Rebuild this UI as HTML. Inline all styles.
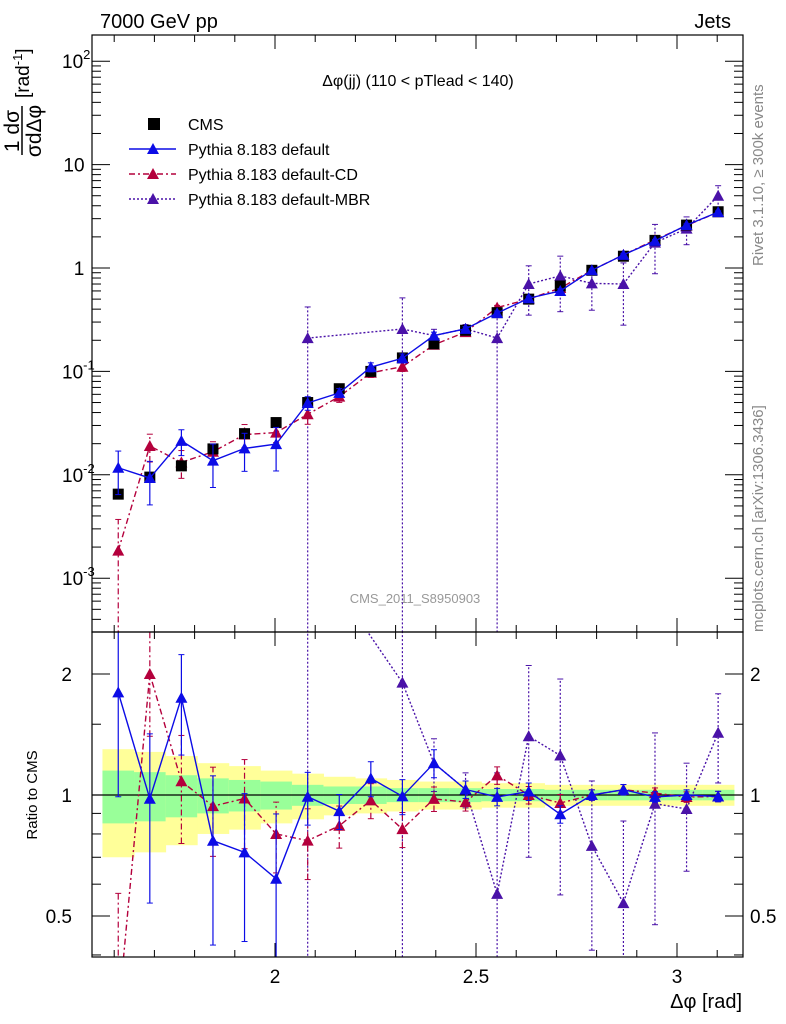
<!DOCTYPE html>
<html><head><meta charset="utf-8"><style>
html,body{margin:0;background:#fff;overflow:hidden;width:786px;height:1024px;}
svg{display:block;font-family:"Liberation Sans",sans-serif;}
</style></head><body>
<svg id="c" width="786" height="1024" viewBox="0 0 786 1024" xmlns="http://www.w3.org/2000/svg">
<text x="100" y="28" font-size="20">7000 GeV pp</text>
<text x="731" y="28" font-size="20" text-anchor="end">Jets</text>
<text x="418" y="86" font-size="16" text-anchor="middle">Δφ(jj) (110 &lt; pTlead &lt;  140)</text>
<text x="415" y="603" font-size="13" fill="#999" text-anchor="middle">CMS_2011_S8950903</text>
<text transform="translate(763,266) rotate(-90)" font-size="15" fill="#888">Rivet 3.1.10, ≥ 300k events</text>
<text transform="translate(763,632) rotate(-90)" font-size="15" fill="#888">mcplots.cern.ch [arXiv:1306.3436]</text>
<g transform="translate(22,155) rotate(-90)">
<text x="24" y="-3" font-size="21" text-anchor="middle">1 dσ</text>
<line x1="0" y1="0" x2="49" y2="0" stroke="#000" stroke-width="1.5"/>
<text x="24" y="19" font-size="21" text-anchor="middle">σdΔφ</text>
<text x="57" y="7" font-size="19">[rad<tspan font-size="13" dy="-7">-1</tspan><tspan dy="7">]</tspan></text>
</g>
<text transform="translate(37,795) rotate(-90)" font-size="15" text-anchor="middle">Ratio to CMS</text>
<text x="742" y="1008" font-size="20" text-anchor="end">Δφ [rad]</text>
<g id="g"></g>
</svg>
<script>
const cmsVals=[0.0065,0.0095,0.0122,0.0178,0.025,0.032,0.05,0.068,0.1,0.135,0.185,0.25,0.37,0.5,0.67,0.95,1.3,1.85,2.6,3.5];
const defVals=[0.0117,0.0093,0.0213,0.0137,0.018,0.0198,0.0495,0.062,0.11,0.134,0.222,0.258,0.366,0.51,0.60,0.95,1.34,1.83,2.6,3.47];
const cdVals=[0.00185,0.019,0.0132,0.0167,0.0245,0.0256,0.0385,0.057,0.097,0.111,0.181,0.24,0.414,0.5,0.64,0.95,1.34,1.87,2.57,3.47];
const mbrVals=[null,null,null,null,null,null,0.21,null,null,0.257,0.222,0.258,0.21,0.7,0.84,0.71,0.70,1.76,2.4,5.0];
const defErr=[0.45,0.45,0.28,0.45,0.4,0.45,0.15,0.1,0.1,0.1,0.08,0.05,0.05,0.05,0.05,0.03,0.03,0.03,0.03,0.03];
const cdErr=[1,0.3,0.3,0.25,0.25,0.2,0.2,0.12,0.1,0.1,0.07,0.05,0.05,0.05,0.05,0.03,0.03,0.03,0.03,0.03];
const mbrErr=[0,0,0,0,0,0,1,0,0,1,0.15,0.1,1,0.5,0.55,0.45,0.6,0.5,0.3,0.25];
const yellowBand=[0.3,0.28,0.25,0.2,0.18,0.15,0.13,0.11,0.1,0.09,0.08,0.08,0.07,0.07,0.06,0.06,0.06,0.06,0.06,0.06];
const greenBand=[0.15,0.14,0.12,0.1,0.09,0.08,0.06,0.05,0.05,0.04,0.04,0.04,0.035,0.035,0.03,0.03,0.03,0.03,0.03,0.03];
const xTicks=[2,2.5,3];
const yTicks=[0.001,0.01,0.1,1,10,100];
const yTickLabels=[["10","-3"],["10","-2"],["10","-1"],["1",""],["10",""],["10","2"]];
const rTicks=[0.5,1,2];

const NS="http://www.w3.org/2000/svg";
const g=document.getElementById('g');
const L=92,R=743,T=35,M=632,B=957;
const X=v=>275+(v-2)*402;
const Y=v=>268-Math.log10(v)*103.4;
const RY=r=>795-Math.log2(r)*121;
const bw=Math.PI/40;
const centers=cmsVals.map((_,i)=>Math.PI/2+(i+0.5)*bw);
function el(t,a,p){const e=document.createElementNS(NS,t);for(const k in a)e.setAttribute(k,a[k]);(p||g).appendChild(e);return e;}
const clip=el('clipPath',{id:'cm'});el('rect',{x:L,y:T,width:R-L,height:M-T},clip);
const clip2=el('clipPath',{id:'cr'});el('rect',{x:L,y:M,width:R-L,height:B-M},clip2);
const gm=el('g',{'clip-path':'url(#cm)'});


const gr=el('g',{'clip-path':'url(#cr)'});


centers.forEach((c,i)=>{
 const x0=X(c-bw/2),w=X(c+bw/2)-x0;
 const y=el('rect',{x:x0,y:RY(1+yellowBand[i]),width:w+0.5,height:RY(1-yellowBand[i])-RY(1+yellowBand[i]),fill:'#ffff99'},gr);
 
 
 const gg=el('rect',{x:x0,y:RY(1+greenBand[i]),width:w+0.5,height:RY(1-greenBand[i])-RY(1+greenBand[i]),fill:'#99ff99'},gr);
 
 
});
el('line',{x1:L,x2:R,y1:RY(1),y2:RY(1),stroke:'#000','stroke-width':1.2},gr);
function tri(x,y,col,p,name){const t=el('polygon',{points:`${x},${y-6} ${x-6},${y+5} ${x+6},${y+5}`,fill:col},p);}
function series(vals,err,col,dash,name){
 let pm=[],pr=[];
 vals.forEach((v,i)=>{if(v==null)return;const x=X(centers[i]);
  pm.push([x,Y(v)]);pr.push([x,RY(v/cmsVals[i])]);
  const lo=Math.max(v*(1-err[i]),1e-6),hi=v*(1+err[i]);
  el('line',{x1:x,x2:x,y1:Y(lo),y2:Y(hi),stroke:col,'stroke-width':1.2,'stroke-dasharray':dash},gm);
  el('line',{x1:x,x2:x,y1:RY(lo/cmsVals[i]),y2:RY(hi/cmsVals[i]),stroke:col,'stroke-width':1.2,'stroke-dasharray':dash},gr);
  [[Y(lo),gm],[Y(hi),gm],[RY(lo/cmsVals[i]),gr],[RY(hi/cmsVals[i]),gr]].forEach(([yy,p])=>el('line',{x1:x-3,x2:x+3,y1:yy,y2:yy,stroke:col},p));
 });
 const a=el('polyline',{points:pm.map(p=>p.join(',')).join(' '),fill:'none',stroke:col,'stroke-width':1.4,'stroke-dasharray':dash},gm);
 
 
 const b=el('polyline',{points:pr.map(p=>p.join(',')).join(' '),fill:'none',stroke:col,'stroke-width':1.4,'stroke-dasharray':dash},gr);
 
 
 pm.forEach(p=>tri(p[0],p[1],col,gm,name+'-point'));
 pr.forEach(p=>tri(p[0],p[1],col,gr,name+'-ratio-point'));
}
const cD='#0c0ce6',cC='#b4003c',cM='#4a12a8';
series(mbrVals,mbrErr,cM,'2,2','mbr');
series(cdVals,cdErr,cC,'6,3,2,3','cd');
cmsVals.forEach((v,i)=>{const x=X(centers[i]);const r=el('rect',{x:x-5.5,y:Y(v)-5.5,width:11,height:11,fill:'#000'},gm);
 
 });
series(defVals,defErr,cD,'','default');
[[T,M],[M,B]].forEach(([a,b])=>el('rect',{x:L,y:a,width:R-L,height:b-a,fill:'none',stroke:'#000','stroke-width':1.2}));
for(let v=1.6;v<=3.16;v+=0.1){const x=X(v);const major=Math.abs(v*2-Math.round(v*2))<1e-6;const len=major?14:7;
 [[T,1],[M,-1],[M,1],[B,-1]].forEach(([yy,d])=>el('line',{x1:x,x2:x,y1:yy,y2:yy+d*len,stroke:'#000'}));}
xTicks.forEach(v=>{const t=el('text',{x:X(v),y:983,'font-size':19,'text-anchor':'middle'});t.textContent=String(v);
 
 });
for(let e=-4;e<=2;e++)for(let k=1;k<10;k++){const v=k*Math.pow(10,e);const y=Y(v);if(y<T||y>M)continue;const len=k==1?18:9;
 el('line',{x1:L,x2:L+len,y1:y,y2:y,stroke:'#000'});el('line',{x1:R,x2:R-len,y1:y,y2:y,stroke:'#000'});}
yTicks.forEach((v,i)=>{const t=el('text',{x:i>=3&&yTickLabels[i][1]==''?(v==1?79:74):62,y:Y(v)+7,'font-size':19,'text-anchor':yTickLabels[i][1]==''?'middle':'start'});
 t.textContent=yTickLabels[i][0];
 if(yTickLabels[i][1]){const s=el('tspan',{'font-size':13,dy:-9},t);s.textContent=yTickLabels[i][1];}
 
 });
[0.4,0.5,0.6,0.7,0.8,0.9,1,1.5,2].forEach(v=>{const y=RY(v);const len=[0.5,1,2].includes(v)?18:9;
 el('line',{x1:L,x2:L+len,y1:y,y2:y,stroke:'#000'});el('line',{x1:R,x2:R-len,y1:y,y2:y,stroke:'#000'});});
rTicks.forEach(v=>{[[72,'end'],[750,'start']].forEach(([x,a])=>{const t=el('text',{x:x,y:RY(v)+7,'font-size':19,'text-anchor':a});t.textContent=String(v);
 
 });});
const leg=[['CMS','#000','sq',''],['Pythia 8.183 default',cD,'tri',''],['Pythia 8.183 default-CD',cC,'tri','6,3,2,3'],['Pythia 8.183 default-MBR',cM,'tri','2,2']];
leg.forEach((e,i)=>{const y=124+i*25;const lg=el('g',{});
 
 
 if(e[2]=='sq')el('rect',{x:148,y:y-6,width:12,height:12,fill:'#000'},lg);
 else{el('line',{x1:129,x2:176,y1:y,y2:y,stroke:e[1],'stroke-width':1.4,'stroke-dasharray':e[3]},lg);tri(153,y,e[1],lg,'legend-marker');}
 const t=el('text',{x:188,y:y+6,'font-size':16},lg);t.textContent=e[0];});
</script>
</body></html>
